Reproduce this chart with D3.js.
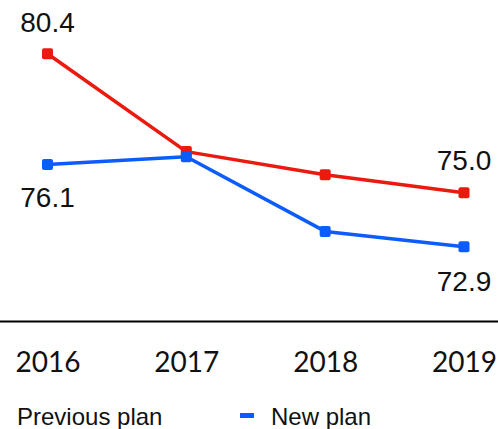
<!DOCTYPE html>
<html>
<head>
<meta charset="utf-8">
<script src="https://cdn.jsdelivr.net/npm/d3@7"></script>
<style>
  html, body { margin: 0; padding: 0; background: #fff; }
  svg { display: block; }
</style>
</head>
<body>
<script>
const years = ["2016", "2017", "2018", "2019"];
const previousPlan = [80.4, 76.6, 75.7, 75.0];
const newPlan = [76.1, 76.4, 73.5, 72.9];
const seriesNames = ["Previous plan", "New plan"];
const yDomain = [70, 82];

const W = 498, H = 429;
const RED = "#ea1a0e", BLUE = "#0c5cfb";

const svg = d3.select("body").append("svg").attr("width", W).attr("height", H);

const x = d3.scalePoint().domain(years).range([47.5, 464]);
const y = d3.scaleLinear().domain(yDomain).range([321.5, 12.6]);

// baseline axis line (full width)
svg.append("line").attr("x1", 0).attr("x2", W)
  .attr("y1", y(yDomain[0])).attr("y2", y(yDomain[0]))
  .attr("stroke", "#000").attr("stroke-width", 2);

// x axis labels
const xAxis = svg.append("g")
  .attr("transform", `translate(0,${y(yDomain[0])})`)
  .call(d3.axisBottom(x).tickSize(0).tickPadding(0));
xAxis.select(".domain").remove();
xAxis.selectAll("text")
  .attr("dy", null).attr("y", 50.5)
  .attr("font-family", "Lato, 'Open Sans', sans-serif")
  .attr("font-size", 28).attr("fill", "#111");

const series = [
  { name: seriesNames[0], values: previousPlan, color: RED },
  { name: seriesNames[1], values: newPlan, color: BLUE }
];

const line = d3.line().x((d, i) => x(years[i])).y(d => y(d));

series.forEach(s => {
  svg.append("path").datum(s.values)
    .attr("d", line).attr("fill", "none")
    .attr("stroke", s.color).attr("stroke-width", 3.5)
    .attr("stroke-linejoin", "round");
});
series.forEach(s => {
  svg.selectAll(null).data(s.values).enter().append("rect")
    .attr("x", (d, i) => x(years[i]) - 5.5)
    .attr("y", d => y(d) - 5.5)
    .attr("width", 11).attr("height", 11).attr("rx", 2)
    .attr("fill", s.color);
});

// data labels
const labelFont = "'Liberation Sans', Arial, sans-serif";
const labels = [
  { i: 0, v: previousPlan[0], dy: -22 },
  { i: 0, v: newPlan[0], dy: 43 },
  { i: 3, v: previousPlan[3], dy: -23 },
  { i: 3, v: newPlan[3], dy: 44 }
];
svg.selectAll(null).data(labels).enter().append("text")
  .attr("x", d => x(years[d.i]))
  .attr("y", d => y(d.v) + d.dy)
  .attr("text-anchor", "middle")
  .attr("font-family", labelFont).attr("font-size", 28)
  .attr("fill", "#111")
  .text(d => d.v.toFixed(1));

// legend
svg.append("text").attr("x", 17).attr("y", 425)
  .attr("font-family", labelFont).attr("font-size", 24).attr("fill", "#111")
  .text(seriesNames[0]);
svg.append("rect").attr("x", 240).attr("y", 413).attr("width", 14).attr("height", 5)
  .attr("fill", BLUE);
svg.append("text").attr("x", 271).attr("y", 425)
  .attr("font-family", labelFont).attr("font-size", 24).attr("fill", "#111")
  .text(seriesNames[1]);
</script>
</body>
</html>
